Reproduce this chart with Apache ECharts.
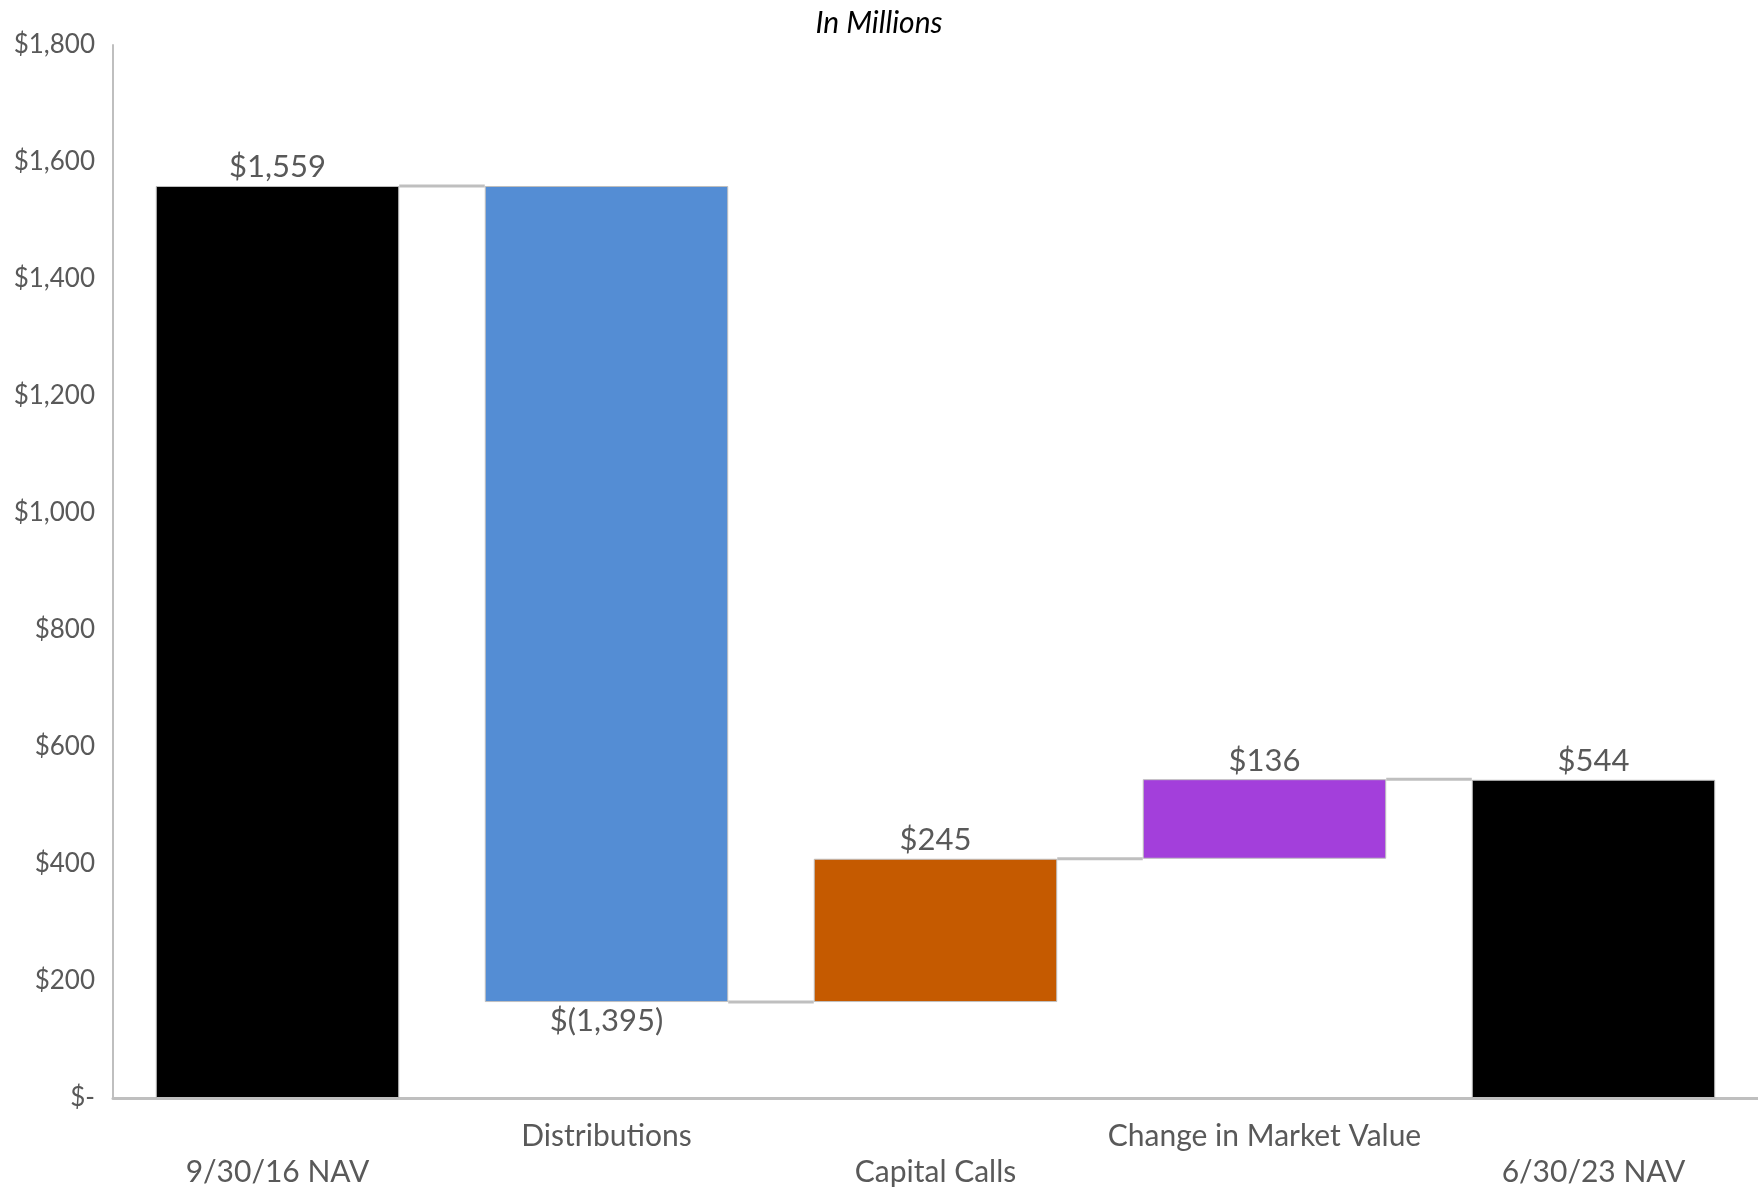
<!DOCTYPE html>
<html>
<head>
<meta charset="utf-8">
<script src="https://cdn.jsdelivr.net/npm/echarts@6/dist/echarts.min.js"></script>
<style>
html, body { margin: 0; padding: 0; background: #fff; }
#main { width: 1758px; height: 1190px; }
</style>
</head>
<body>
<div id="main"></div>
<script>
var categories = ['9/30/16 NAV', 'Distributions', 'Capital Calls', 'Change in Market Value', '6/30/23 NAV'];
var changes = [1559, -1395, 245, 136, 544];
var isTotal = [true, false, false, false, true];
var barColors = ['#000000', '#548DD4', '#C55A00', '#A33FDB', '#000000'];
var yTicks = [0, 200, 400, 600, 800, 1000, 1200, 1400, 1600, 1800];

var FONT = 'Lato, "DejaVu Sans", sans-serif';

// build waterfall bases and heights
var baseData = [];
var barData = [];
var levels = [];
var running = 0;
for (var i = 0; i < changes.length; i++) {
	var v = changes[i];
	var base, h;
	if (isTotal[i]) {
		base = 0;
		h = v;
		running = v;
	} else if (v < 0) {
		base = running + v;
		h = -v;
		running = running + v;
	} else {
		base = running;
		h = v;
		running = running + v;
	}
	baseData.push(base);
	barData.push({
		value: h,
		itemStyle: { color: barColors[i] },
		label: { position: v < 0 ? 'bottom' : 'top' }
	});
	levels.push(running);
}

var connectorData = [];
for (var j = 0; j < levels.length - 1; j++) {
	connectorData.push([j, levels[j]]);
}

function money(v) {
	var s = '$' + Math.abs(v).toLocaleString('en-US');
	if (v < 0) s = '$(' + Math.abs(v).toLocaleString('en-US') + ')';
	return s;
}

var BAR_RATIO = 0.74;

var chart = echarts.init(document.getElementById('main'));
chart.setOption({
	animation: false,
	title: {
		text: 'In Millions',
		left: 'center',
		top: 3,
		textStyle: {
			fontFamily: FONT,
			fontStyle: 'italic',
			fontWeight: 'normal',
			fontSize: 30,
			color: '#000'
		}
	},
	grid: {
		left: 113,
		right: 0,
		top: 45,
		bottom: 92
	},
	xAxis: {
		type: 'category',
		data: categories,
		axisLine: { lineStyle: { color: '#BFBFBF', width: 3 } },
		axisTick: { show: false },
		axisLabel: {
			interval: 0,
			margin: 20,
			fontFamily: FONT,
			fontSize: 30,
			color: '#595959',
			lineHeight: 36,
			formatter: function (value, index) {
				return index % 2 === 0 ? '\n' + value : value;
			}
		}
	},
	yAxis: {
		type: 'value',
		min: yTicks[0],
		max: yTicks[yTicks.length - 1],
		interval: 200,
		splitLine: { show: false },
		axisLine: { show: true, lineStyle: { color: '#BFBFBF', width: 2 } },
		axisTick: { show: false },
		axisLabel: {
			margin: 18,
			fontFamily: FONT,
			fontSize: 26,
			color: '#595959',
			formatter: function (v) {
				return v === 0 ? '$-' : '$' + v.toLocaleString('en-US');
			}
		}
	},
	series: [
		{
			type: 'bar',
			stack: 'wf',
			barWidth: (BAR_RATIO * 100) + '%',
			itemStyle: { color: 'transparent' },
			silent: true,
			data: baseData
		},
		{
			type: 'bar',
			stack: 'wf',
			barWidth: (BAR_RATIO * 100) + '%',
			itemStyle: { borderColor: '#BFBFBF', borderWidth: 1 },
			label: {
				show: true,
				fontFamily: FONT,
				fontSize: 31,
				color: '#595959',
				distance: 3,
				formatter: function (p) {
					return money(changes[p.dataIndex]);
				}
			},
			data: barData
		},
		{
			type: 'custom',
			silent: true,
			z: 1,
			renderItem: function (params, api) {
				var idx = api.value(0);
				var lvl = api.value(1);
				var p1 = api.coord([idx, lvl]);
				var p2 = api.coord([idx + 1, lvl]);
				var half = api.size([1, 0])[0] * BAR_RATIO / 2;
				return {
					type: 'line',
					shape: { x1: p1[0] + half, y1: p1[1], x2: p2[0] - half, y2: p2[1] },
					style: { stroke: '#BFBFBF', lineWidth: 3 }
				};
			},
			data: connectorData
		}
	]
});
</script>
</body>
</html>
